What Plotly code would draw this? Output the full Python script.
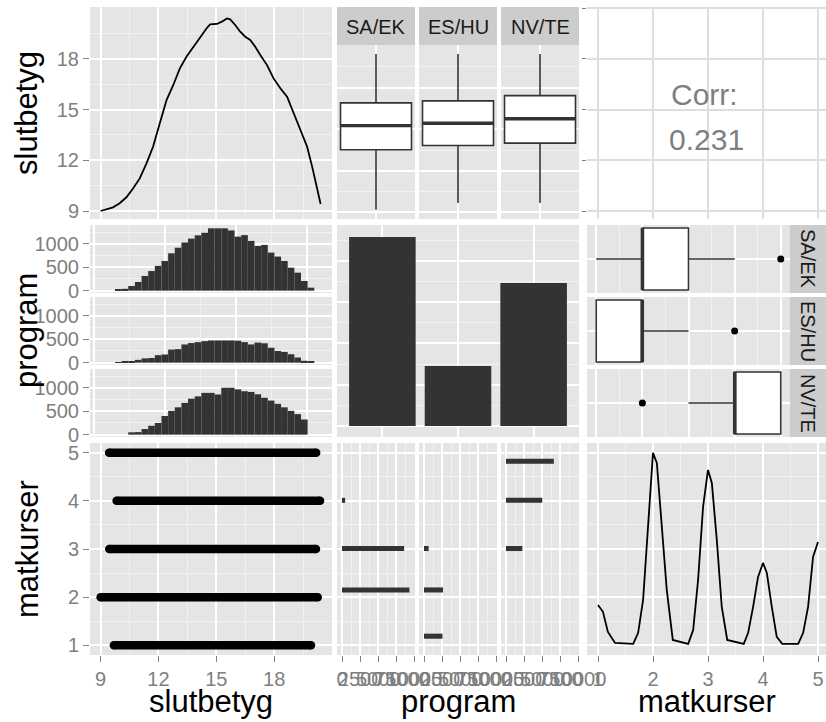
import numpy as np
import plotly.graph_objects as go

# ---------------- data ----------------
programs = ["SA/EK", "ES/HU", "NV/TE"]

# kernel density of slutbetyg, scaled so that the peak is 1
slut_density_x = [9.00, 9.30, 9.64, 9.99, 10.34, 10.68, 11.03, 11.38, 11.72, 12.07,
                  12.42, 12.77, 13.11, 13.46, 13.81, 14.16, 14.50, 14.68, 15.03, 15.29,
                  15.55, 15.72, 15.98, 16.24, 16.50, 16.76, 17.02, 17.28, 17.63, 17.97,
                  18.32, 18.67, 19.02, 19.36, 19.71, 19.97, 20.15, 20.41]
slut_density_rel = [0.000, 0.009, 0.019, 0.040, 0.071, 0.117, 0.169, 0.247, 0.333, 0.454,
                    0.575, 0.653, 0.739, 0.800, 0.851, 0.903, 0.947, 0.967, 0.969, 0.981,
                    0.998, 0.993, 0.964, 0.929, 0.903, 0.886, 0.851, 0.808, 0.756, 0.687,
                    0.636, 0.592, 0.506, 0.428, 0.333, 0.230, 0.144, 0.036]

# slutbetyg box statistics per program
slut_lower = [9.20, 9.68, 9.68]
slut_q1 = [13.52, 13.83, 14.00]
slut_median = [15.26, 15.43, 15.75]
slut_q3 = [16.90, 17.04, 17.42]
slut_upper = [20.42, 20.42, 20.42]

corr_value = 0.231

# slutbetyg histograms per program (30 bins)
hist_start = 9.18
hist_width = 0.375
hist_sa_ek = [30, 40, 100, 185, 315, 420, 530, 635, 800, 920, 1030, 1115, 1185, 1240, 1335,
              1335, 1335, 1290, 1157, 1190, 1065, 957, 980, 815, 730, 635, 493, 385, 207, 64]
hist_es_hu = [10, 25, 35, 60, 92, 100, 160, 175, 280, 290, 390, 420, 440, 460, 475,
              475, 475, 475, 470, 440, 390, 430, 415, 320, 250, 230, 180, 110, 40, 30]
hist_nv_te = [0, 0, 50, 55, 120, 190, 250, 400, 510, 585, 680, 770, 820, 895, 895,
              860, 1005, 1005, 970, 930, 915, 865, 790, 730, 660, 585, 510, 440, 325, 0]

# matkurser counts per program, by histogram bin position
matk_bin_pos = [1.19, 2.15, 3.01, 4.01, 4.82]
matk_sa_ek = [0, 9300, 8570, 430, 0]
matk_es_hu = [2550, 2620, 640, 0, 0]
matk_nv_te = [0, 0, 2250, 5000, 6600]

# matkurser box statistics per program
matk_lower = [1, 1, 3]
matk_q1 = [2, 1, 4]
matk_median = [2, 2, 4]
matk_q3 = [3, 2, 5]
matk_upper = [4, 3, 5]
matk_outlier = [5, 4, 2]

# slutbetyg span for each matkurser level
matk_levels = [1, 2, 3, 4, 5]
slut_min_by_level = [9.69, 9.00, 9.45, 9.83, 9.44]
slut_max_by_level = [19.91, 20.26, 20.17, 20.38, 20.18]

# kernel density of matkurser, scaled so that the peak is 1
matk_density_x = [1.00, 1.09, 1.18, 1.31, 1.64, 1.73, 1.82, 1.91, 2.00, 2.07, 2.16, 2.25,
                  2.36, 2.64, 2.73, 2.82, 2.91, 3.00, 3.07, 3.16, 3.25, 3.35, 3.65, 3.73,
                  3.82, 3.91, 4.00, 4.07, 4.16, 4.25, 4.35, 4.64, 4.73, 4.82, 4.91, 5.00]
matk_density_rel = [0.204, 0.168, 0.063, 0.005, 0.000, 0.058, 0.230, 0.634, 1.000, 0.948,
                    0.634, 0.283, 0.021, 0.000, 0.073, 0.335, 0.717, 0.911, 0.843, 0.545,
                    0.194, 0.021, 0.000, 0.058, 0.194, 0.351, 0.424, 0.372, 0.194, 0.037,
                    0.000, 0.000, 0.058, 0.194, 0.455, 0.534]

# tick positions / labels
slut_major = [9, 12, 15, 18]
slut_minor = [10.5, 13.5, 16.5, 19.5]
matk_major = [1, 2, 3, 4, 5]
matk_minor = [1.5, 2.5, 3.5, 4.5]
hist_x_major = [8, 12, 16, 20]
hist_x_minor = [10, 14, 18]
hist_count_major = [0, 500, 1000]
hist_count_minor = [250, 750, 1250]
bar_major = [0, 4000, 8000, 12000, 16000]
bar_minor = [2000, 6000, 10000, 14000, 18000]
flip_count_major = [0, 2500, 5000, 7500, 10000]
flip_count_minor = [1250, 3750, 6250, 8750]

program_totals = [sum(c) for c in (matk_sa_ek, matk_es_hu, matk_nv_te)]
hist_by_program = [hist_sa_ek, hist_es_hu, hist_nv_te]
matk_by_program = [matk_sa_ek, matk_es_hu, matk_nv_te]

# ---------------- styling ----------------
W, H = 826, 722
FONT = "Liberation Sans, Arial, sans-serif"
PANEL_BG = "#E5E5E5"
STRIP_BG = "#CCCCCC"
GRID_MAJOR = "#FFFFFF"
GRID_MINOR = "#F2F2F2"
TEXT_GREY = "#7F7F7F"
INK = "#333333"
TICK_SIZE = 20
TITLE_SIZE = 31
BOX_W = 0.91

SLUT_X = [8.45, 21.0]
SLUT_Y = [8.53, 21.07]
MATK = [0.8, 5.2]
MATK_X = [0.8, 0.8 + (826 - 587) / 55.0]
HIST_X = [7.77, 21.43]
HIST_Y = [-50, 1406]
BAR_X = [0.4, 3.6]
BAR_Y = [-1065, 19460]
FLIP_X = [-690, 10070]

col1 = (90, 332)
col2 = (337, 579)
col3 = (587, 826)
col2_facets = [(337, 415), (419, 497), (501, 579)]
row2_facets = [(225, 293), (297, 365), (369, 437)]


def xdom(a, b):
    return [a / W, b / W]


def ydom(top, bottom):
    return [1 - bottom / H, 1 - top / H]


layout = {}
shapes = []
annotations = []
traces = []
counter = [0]


def next_id():
    counter[0] += 1
    return "" if counter[0] == 1 else str(counter[0])


def axis(rng, vals, minor_vals=None, labels=False, ticks=False, ticktext=None,
         grid=GRID_MAJOR, gw=1.6, ticklen=6):
    ax = dict(range=rng, autorange=False, tickmode="array", tickvals=vals, showgrid=True,
              gridcolor=grid, gridwidth=gw, zeroline=False, showline=False,
              showticklabels=labels, ticks="outside" if ticks else "",
              ticklen=ticklen, tickwidth=1.2, tickcolor=TEXT_GREY, tickangle=0,
              tickfont=dict(family=FONT, size=TICK_SIZE, color=TEXT_GREY),
              automargin=False, fixedrange=True)
    if ticktext is not None:
        ax["ticktext"] = ticktext
    if minor_vals:
        ax["minor"] = dict(tickmode="array", tickvals=minor_vals, showgrid=True,
                           gridcolor=GRID_MINOR, gridwidth=0.8, ticks="")
    return ax


def panel(xd, yd, xa, ya, bg=PANEL_BG):
    n = next_id()
    layout["xaxis" + n] = dict(domain=xd, anchor="y" + n, **xa)
    layout["yaxis" + n] = dict(domain=yd, anchor="x" + n, **ya)
    if bg:
        shapes.append(dict(type="rect", xref="paper", yref="paper",
                           x0=xd[0], x1=xd[1], y0=yd[0], y1=yd[1],
                           fillcolor=bg, line=dict(width=0), layer="below"))
    # an empty trace registers the subplot so its grid and ticks are always drawn
    traces.append(go.Scatter(x=[], y=[], mode="markers", xaxis="x" + n, yaxis="y" + n))
    return "x" + n, "y" + n


def overlay(xname, yname, rng):
    n = next_id()
    base = layout["yaxis" + yname[1:]]
    layout["yaxis" + n] = dict(overlaying=yname, anchor=xname, domain=base["domain"],
                               range=rng, autorange=False, showgrid=False, zeroline=False,
                               showticklabels=False, ticks="", showline=False,
                               automargin=False, fixedrange=True)
    return "y" + n


def label(text, px, py, size, color="black", angle=0):
    annotations.append(dict(text=text, x=px / W, y=1 - py / H, xref="paper", yref="paper",
                            showarrow=False, xanchor="center", yanchor="middle",
                            textangle=angle, font=dict(family=FONT, size=size, color=color)))


def strip(x0, x1, top, bottom):
    shapes.append(dict(type="rect", xref="paper", yref="paper",
                       x0=x0 / W, x1=x1 / W, y0=1 - bottom / H, y1=1 - top / H,
                       fillcolor=STRIP_BG, line=dict(width=0), layer="below"))


# ---------------- row 1 ----------------
xa, ya = panel(xdom(*col1), ydom(7, 219),
               axis(SLUT_X, slut_major, slut_minor),
               axis(SLUT_Y, slut_major, slut_minor, labels=True, ticks=True,
                    ticktext=[str(v) for v in slut_major]))
yd_ = overlay(xa, ya, [-0.0415, 1.057])
traces.append(go.Scatter(x=slut_density_x, y=slut_density_rel, mode="lines",
                         line=dict(color="black", width=1.8), xaxis=xa, yaxis=yd_))

for i, prog in enumerate(programs):
    fx = col2_facets[i]
    xa, ya = panel(xdom(*fx), ydom(45, 219),
                   axis([-0.5, 0.5], [0]),
                   axis(SLUT_Y, slut_major, slut_minor))
    strip(fx[0], fx[1], 7, 45)
    label(prog, (fx[0] + fx[1]) / 2, 27, 20, color="#1A1A1A")
    traces.append(go.Box(x=[0], q1=[slut_q1[i]], median=[slut_median[i]], q3=[slut_q3[i]],
                         lowerfence=[slut_lower[i]], upperfence=[slut_upper[i]],
                         orientation="v", width=BOX_W, whiskerwidth=0,
                         fillcolor="white", line=dict(color=INK, width=1.6),
                         boxpoints=False, xaxis=xa, yaxis=ya))
    traces.append(go.Scatter(x=[-BOX_W / 2, BOX_W / 2], y=[slut_median[i]] * 2, mode="lines",
                             line=dict(color=INK, width=3.4), xaxis=xa, yaxis=ya))

xa, ya = panel(xdom(*col3), ydom(7, 219),
               axis(MATK_X, matk_major, grid="#DEDEDE", gw=1.6),
               axis(SLUT_Y, slut_major + [21], grid="#DEDEDE", gw=1.6, ticks=True, ticklen=4),
               bg=None)
label("Corr:", 704, 95, 30, color=TEXT_GREY)
label(f"{corr_value:.3f}", 706, 139, 30, color=TEXT_GREY)

# ---------------- row 2 ----------------
centers = hist_start + hist_width * (np.arange(len(hist_sa_ek)) + 0.5)
for i, prog in enumerate(programs):
    fy = row2_facets[i]
    xa, ya = panel(xdom(*col1), ydom(*fy),
                   axis(HIST_X, hist_x_major, hist_x_minor),
                   axis(HIST_Y, hist_count_major, hist_count_minor, labels=True, ticks=True,
                        ticktext=[str(v) for v in hist_count_major]))
    traces.append(go.Bar(x=centers, y=hist_by_program[i], width=hist_width,
                         marker=dict(color=INK, line=dict(width=0)), xaxis=xa, yaxis=ya))

xa, ya = panel(xdom(*col2), ydom(225, 437),
               axis(BAR_X, [1, 2, 3]),
               axis(BAR_Y, bar_major, bar_minor))
traces.append(go.Bar(x=[1, 2, 3], y=program_totals, width=0.88,
                     marker=dict(color=INK, line=dict(width=0)), xaxis=xa, yaxis=ya))

for i, prog in enumerate(programs):
    fy = row2_facets[i]
    xa, ya = panel(xdom(587, 790), ydom(*fy),
                   axis(MATK, matk_major, matk_minor),
                   axis([-0.5, 0.5], [0]))
    strip(790, 826, fy[0], fy[1])
    label(prog, 808, (fy[0] + fy[1]) / 2, 20, color="#1A1A1A", angle=90)
    traces.append(go.Box(y=[0], q1=[matk_q1[i]], median=[matk_median[i]], q3=[matk_q3[i]],
                         lowerfence=[matk_lower[i]], upperfence=[matk_upper[i]],
                         orientation="h", width=BOX_W, whiskerwidth=0,
                         fillcolor="white", line=dict(color=INK, width=1.6),
                         boxpoints=False, xaxis=xa, yaxis=ya))
    traces.append(go.Scatter(x=[matk_median[i]] * 2, y=[-BOX_W / 2, BOX_W / 2], mode="lines",
                             line=dict(color=INK, width=3.4), xaxis=xa, yaxis=ya))
    traces.append(go.Scatter(x=[matk_outlier[i]], y=[0], mode="markers",
                             marker=dict(color="black", size=7), xaxis=xa, yaxis=ya))

# ---------------- row 3 ----------------
xa, ya = panel(xdom(*col1), ydom(443, 655),
               axis(SLUT_X, slut_major, slut_minor, labels=True, ticks=True,
                    ticktext=[str(v) for v in slut_major]),
               axis(MATK, matk_major, matk_minor, labels=True, ticks=True,
                    ticktext=[str(v) for v in matk_major]))
for lvl, lo, hi in zip(matk_levels, slut_min_by_level, slut_max_by_level):
    traces.append(go.Scatter(x=[lo, hi], y=[lvl, lvl], mode="lines+markers",
                             line=dict(color="black", width=8.5),
                             marker=dict(color="black", size=8.5), xaxis=xa, yaxis=ya))

for i, prog in enumerate(programs):
    fx = col2_facets[i]
    xa, ya = panel(xdom(*fx), ydom(443, 655),
                   axis(FLIP_X, flip_count_major, flip_count_minor, labels=True, ticks=True,
                        ticktext=[str(v) for v in flip_count_major]),
                   axis(MATK, matk_major, matk_minor))
    traces.append(go.Bar(y=matk_bin_pos, x=matk_by_program[i], orientation="h", width=0.105,
                         marker=dict(color=INK, line=dict(width=0)), xaxis=xa, yaxis=ya))

xa, ya = panel(xdom(*col3), ydom(443, 655),
               axis(MATK_X, matk_major, matk_minor, labels=True, ticks=True,
                    ticktext=[str(v) for v in matk_major]),
               axis(MATK, matk_major, matk_minor))
yd_ = overlay(xa, ya, [-0.058, 1.052])
traces.append(go.Scatter(x=matk_density_x, y=matk_density_rel, mode="lines",
                         line=dict(color="black", width=1.8), xaxis=xa, yaxis=yd_))

# ---------------- axis titles ----------------
label("slutbetyg", 211, 701, TITLE_SIZE)
label("program", 458, 701, TITLE_SIZE)
label("matkurser", 707, 701, TITLE_SIZE)
label("slutbetyg", 27, 113, TITLE_SIZE, angle=-90)
label("program", 27, 331, TITLE_SIZE, angle=-90)
label("matkurser", 27, 549, TITLE_SIZE, angle=-90)

fig = go.Figure(data=traces)
fig.update_traces(showlegend=False, hoverinfo="skip")
fig.update_layout(width=W, height=H, margin=dict(l=0, r=0, t=0, b=0, autoexpand=False),
                  paper_bgcolor="white", plot_bgcolor="rgba(0,0,0,0)",
                  showlegend=False, hovermode=False, barmode="overlay",
                  font=dict(family=FONT), shapes=shapes, annotations=annotations,
                  **layout)
fig.write_html("out.html", config={"displayModeBar": False})
